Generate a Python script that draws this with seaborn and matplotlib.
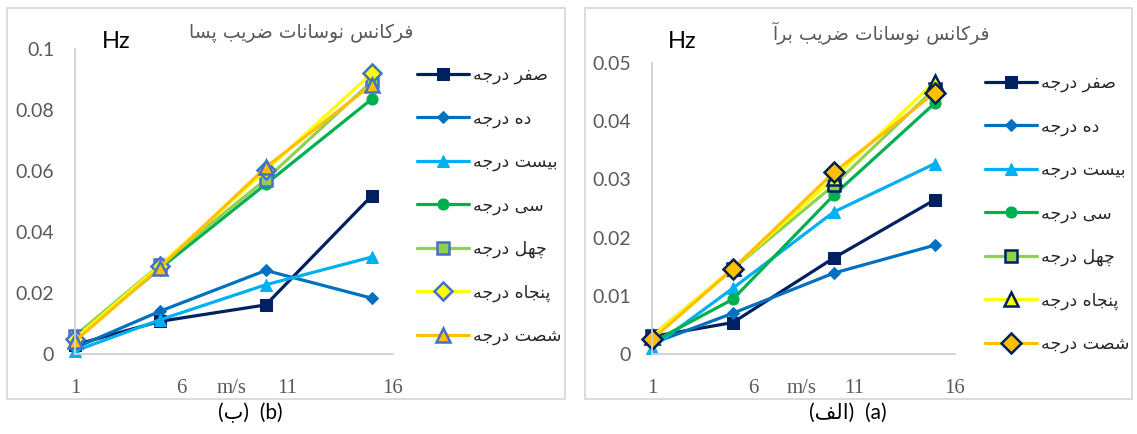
import numpy as np
import pandas as pd
import seaborn as sns
import matplotlib.pyplot as plt
from matplotlib.patches import Rectangle
from matplotlib.ticker import FuncFormatter

# data
speeds = [1, 5, 10, 15]
series_names = ['صفر درجه', 'ده درجه', 'بیست درجه', 'سی درجه', 'چهل درجه', 'پنجاه درجه', 'شصت درجه']

# (b) drag coefficient
drag_0 = [0.0030, 0.0107, 0.0161, 0.0519]
drag_10 = [0.0020, 0.0140, 0.0274, 0.0183]
drag_20 = [0.0010, 0.0112, 0.0227, 0.0318]
drag_30 = [0.0050, 0.0280, 0.0557, 0.0836]
drag_40 = [0.0060, 0.0292, 0.0572, 0.0894]
drag_50 = [0.0050, 0.0290, 0.0602, 0.0921]
drag_60 = [0.0042, 0.0283, 0.0612, 0.0883]

# (a) lift coefficient
lift_0 = [0.0030, 0.0054, 0.0165, 0.0265]
lift_10 = [0.0018, 0.0070, 0.0139, 0.0187]
lift_20 = [0.0011, 0.0113, 0.0244, 0.0327]
lift_30 = [0.0020, 0.0094, 0.0273, 0.0431]
lift_40 = [0.0031, 0.0146, 0.0290, 0.0456]
lift_50 = [0.0030, 0.0147, 0.0302, 0.0468]
lift_60 = [0.0025, 0.0146, 0.0312, 0.0449]

title_b = 'فرکانس نوسانات ضریب پسا'
title_a = 'فرکانس نوسانات ضریب برآ'

# simple arabic shaping (matplotlib does not join letters)
FORMS = {
    'ا': ('\uFE8D', '\uFE8E', None, None),
    'آ': ('\uFE81', '\uFE82', None, None),
    'ب': ('\uFE8F', '\uFE90', '\uFE91', '\uFE92'),
    'پ': ('\uFB56', '\uFB57', '\uFB58', '\uFB59'),
    'ت': ('\uFE95', '\uFE96', '\uFE97', '\uFE98'),
    'ج': ('\uFE9D', '\uFE9E', '\uFE9F', '\uFEA0'),
    'چ': ('\uFB7A', '\uFB7B', '\uFB7C', '\uFB7D'),
    'د': ('\uFEA9', '\uFEAA', None, None),
    'ر': ('\uFEAD', '\uFEAE', None, None),
    'س': ('\uFEB1', '\uFEB2', '\uFEB3', '\uFEB4'),
    'ش': ('\uFEB5', '\uFEB6', '\uFEB7', '\uFEB8'),
    'ص': ('\uFEB9', '\uFEBA', '\uFEBB', '\uFEBC'),
    'ض': ('\uFEBD', '\uFEBE', '\uFEBF', '\uFEC0'),
    'ف': ('\uFED1', '\uFED2', '\uFED3', '\uFED4'),
    'ک': ('\uFB8E', '\uFB8F', '\uFB90', '\uFB91'),
    'ل': ('\uFEDD', '\uFEDE', '\uFEDF', '\uFEE0'),
    'ن': ('\uFEE5', '\uFEE6', '\uFEE7', '\uFEE8'),
    'و': ('\uFEED', '\uFEEE', None, None),
    'ه': ('\uFEE9', '\uFEEA', '\uFEEB', '\uFEEC'),
    'ی': ('\uFBFC', '\uFBFD', '\uFBFE', '\uFBFF'),
}


def shape(text):
    out = []
    for i, ch in enumerate(text):
        if ch not in FORMS:
            out.append(ch)
            continue
        prev = text[i - 1] if i > 0 else None
        nxt = text[i + 1] if i + 1 < len(text) else None
        iso, fin, ini, med = FORMS[ch]
        jp = prev in FORMS and FORMS[prev][2] is not None
        jn = nxt in FORMS and ini is not None
        if jp and jn:
            out.append(med)
        elif jp:
            out.append(fin)
        elif jn:
            out.append(ini)
        else:
            out.append(iso)
    return ''.join(reversed(out))


sns.set_style("white")
plt.rcParams['font.family'] = ['Lato', 'DejaVu Sans']

W, H = 1137, 434
fig = plt.figure(figsize=(W / 100, H / 100), dpi=100)


def box(x0, y0, x1, y1):
    return [x0 / W, 1 - y1 / H, (x1 - x0) / W, (y1 - y0) / H]


navy, blue, lblue = '#002060', '#0070C0', '#00B0F0'
green, lgreen, yellow, orange = '#00B050', '#92D050', '#FFFF00', '#FFC000'
gray_txt = '#595959'
fa_font = ['DejaVu Sans']


def panel(ax, data, edge, m50, m60, ymax, yticks, title, title_x, hz_x, leg_x, leg_y, frame, cap, cap_x):
    styles = [
        dict(color=navy, marker='s', markersize=8, markerfacecolor=navy, markeredgecolor=navy),
        dict(color=blue, marker='D', markersize=6.5, markerfacecolor=blue, markeredgecolor=blue),
        dict(color=lblue, marker='^', markersize=9, markerfacecolor=lblue, markeredgecolor=lblue),
        dict(color=green, marker='o', markersize=8, markerfacecolor=green, markeredgecolor=green),
        dict(color=lgreen, marker='s', markersize=8.5, markerfacecolor=lgreen, markeredgecolor=edge, markeredgewidth=1.8),
        dict(color=yellow, marker=m50, markersize=9.5, markerfacecolor=yellow, markeredgecolor=edge, markeredgewidth=1.8),
        dict(color=orange, marker=m60, markersize=10, markerfacecolor=orange, markeredgecolor=edge, markeredgewidth=1.8),
    ]
    for vals, name, st in zip(data, series_names, styles):
        sns.lineplot(x=speeds, y=vals, ax=ax, linewidth=2.3, label=shape(name), **st)
    for ln in ax.lines:
        ln.set_clip_on(False)

    ax.set_xlim(1, 16)
    ax.set_ylim(0, ymax)
    ax.set_xticks([1, 6, 11, 16])
    ax.set_yticks(yticks)
    ax.yaxis.set_major_formatter(FuncFormatter(lambda v, p: '%g' % round(v, 4)))
    for s in ['top', 'right']:
        ax.spines[s].set_visible(False)
    for s in ['left', 'bottom']:
        ax.spines[s].set_color('#D0D0D0')
        ax.spines[s].set_linewidth(1.3)
    ax.tick_params(axis='y', length=0, pad=15, labelsize=14, labelcolor=gray_txt)
    ax.tick_params(axis='x', length=0, pad=18, labelsize=15, labelcolor=gray_txt)
    for t in ax.get_xticklabels():
        t.set_fontfamily('Liberation Serif')
    ax.annotate('m/s', xy=(8.4, 0), xycoords=('data', 'axes fraction'),
                xytext=(0, -18), textcoords='offset points', ha='center', va='top',
                fontsize=15, color=gray_txt, family='Liberation Serif')
    ax.set_xlabel('')
    ax.set_ylabel('')

    fig.text(title_x / W, 1 - 33 / H, shape(title), ha='center', va='center',
             fontsize=13.5, color=gray_txt, family=fa_font)
    fig.text(hz_x / W, 1 - 41 / H, 'Hz', ha='center', va='center', fontsize=17, color='black')

    ax.legend(loc='upper left', bbox_to_anchor=(leg_x / W, 1 - leg_y / H),
              bbox_transform=fig.transFigure, frameon=False,
              prop={'family': fa_font, 'size': 12.5},
              handlelength=3.0, handletextpad=0.25, labelspacing=1.45,
              borderpad=0, borderaxespad=0)

    fig.add_artist(Rectangle((frame[0] / W, 1 - frame[3] / H), (frame[2] - frame[0]) / W,
                             (frame[3] - frame[1]) / H, transform=fig.transFigure,
                             fill=False, edgecolor='#D9D9D9', linewidth=1.3))
    fig.text(cap_x / W, 1 - 413 / H, cap, ha='center', va='center', fontsize=15,
             color='black', family=['Lato', 'DejaVu Sans'])


ax_b = fig.add_axes(box(75, 49, 393, 354))
panel(ax_b, [drag_0, drag_10, drag_20, drag_30, drag_40, drag_50, drag_60], '#4472C4', 'D', '^',
      0.1, [0, 0.02, 0.04, 0.06, 0.08, 0.1], title_b, 301, 116, 417, 66,
      (7, 8, 565, 399), '(' + shape('ب') + ')  (b)', 250)

ax_a = fig.add_axes(box(652, 63, 955, 354))
panel(ax_a, [lift_0, lift_10, lift_20, lift_30, lift_40, lift_50, lift_60], navy, '^', 'D',
      0.05, [0, 0.01, 0.02, 0.03, 0.04, 0.05], title_a, 881, 682, 985, 74,
      (585, 8, 1132, 399), '(' + shape('الف') + ')  (a)', 848)

fig.savefig('out.png', dpi=100)
